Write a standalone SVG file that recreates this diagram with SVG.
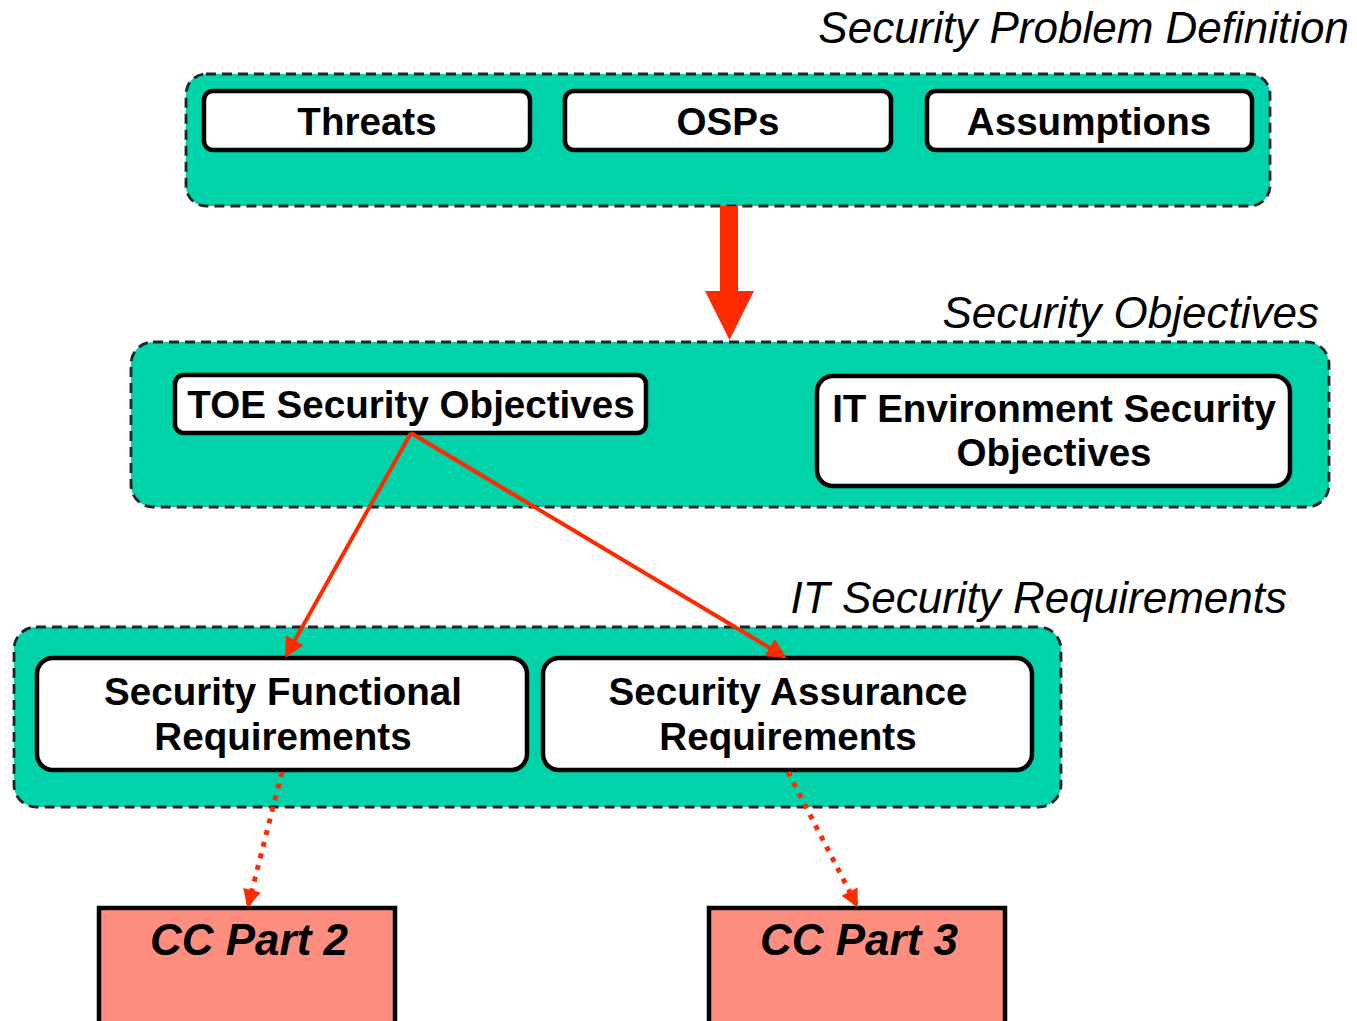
<svg xmlns="http://www.w3.org/2000/svg" width="1357" height="1021" viewBox="0 0 1357 1021">
  <defs>
    <style>
      .group { fill: #00d2aa; stroke: #222; stroke-width: 2.8; stroke-dasharray: 10 6; }
      .box { fill: #fff; stroke: #000; stroke-width: 4.5; }
      .cc { fill: #fe8f80; stroke: #000; stroke-width: 4.5; }
      .lbl { font-family: "Liberation Sans", Arial, sans-serif; font-weight: bold; font-size: 38.6px; fill: #000; text-anchor: middle; }
      .cclbl { font-family: "Liberation Sans", Arial, sans-serif; font-weight: bold; font-style: italic; font-size: 44px; fill: #000; text-anchor: middle; }
      .title { font-family: "Liberation Sans", Arial, sans-serif; font-style: italic; font-size: 44px; fill: #000; text-anchor: end; }
      .link { fill: none; stroke: #ff2a00; stroke-width: 4; }
      .dot { fill: none; stroke: #ff2a00; stroke-width: 5; stroke-dasharray: 5 7; }
    </style>
    <marker id="head" viewBox="0 0 10 10" refX="9" refY="5" markerWidth="6" markerHeight="5" orient="auto" markerUnits="strokeWidth">
      <path d="M0,0 L10,5 L0,10 z" fill="#ff2a00"/>
    </marker>
    <marker id="headDot" viewBox="0 0 10 10" refX="9" refY="5" markerWidth="4.5" markerHeight="3.6" orient="auto" markerUnits="strokeWidth">
      <path d="M0,0 L10,5 L0,10 z" fill="#ff2a00"/>
    </marker>
  </defs>

  <!-- Security Problem Definition -->
  <g id="spd">
    <rect class="group" x="186" y="74" width="1084" height="132" rx="20"/>
    <text class="title" x="1349" y="43">Security Problem Definition</text>
  </g>
  <g id="threats">
    <rect class="box" x="204" y="91" width="326" height="59" rx="9"/>
    <text class="lbl" x="367" y="135">Threats</text>
  </g>
  <g id="osps">
    <rect class="box" x="565" y="91" width="326" height="59" rx="9"/>
    <text class="lbl" x="728" y="135">OSPs</text>
  </g>
  <g id="assumptions">
    <rect class="box" x="927" y="91" width="325" height="59" rx="9"/>
    <text class="lbl" x="1089" y="135">Assumptions</text>
  </g>

  <!-- Security Objectives -->
  <g id="so">
    <rect class="group" x="131" y="342" width="1198" height="165" rx="22"/>
    <text class="title" x="1319" y="328">Security Objectives</text>
  </g>
  <g id="toe">
    <rect class="box" x="175" y="375" width="471" height="58" rx="9"/>
    <text class="lbl" x="411" y="418">TOE Security Objectives</text>
  </g>
  <g id="itenv">
    <rect class="box" x="817" y="376" width="473" height="110" rx="16"/>
    <text class="lbl" x="1054" y="422">IT Environment Security</text>
    <text class="lbl" x="1054" y="466">Objectives</text>
  </g>

  <!-- IT Security Requirements -->
  <g id="itsr">
    <rect class="group" x="14" y="627" width="1047" height="180" rx="22"/>
    <text class="title" x="1287" y="613">IT Security Requirements</text>
  </g>
  <g id="sfr">
    <rect class="box" x="37" y="658" width="490" height="112" rx="16"/>
    <text class="lbl" x="283" y="705">Security Functional</text>
    <text class="lbl" x="283" y="750">Requirements</text>
  </g>
  <g id="sar">
    <rect class="box" x="543" y="658" width="489" height="112" rx="16"/>
    <text class="lbl" x="788" y="705">Security Assurance</text>
    <text class="lbl" x="788" y="750">Requirements</text>
  </g>

  <!-- Common Criteria parts -->
  <g id="cc2">
    <rect class="cc" x="99" y="908" width="296" height="130"/>
    <text class="cclbl" x="249" y="955">CC Part 2</text>
  </g>
  <g id="cc3">
    <rect class="cc" x="709" y="908" width="296" height="130"/>
    <text class="cclbl" x="859" y="955">CC Part 3</text>
  </g>

  <!-- Connectors -->
  <g id="connectors">
    <path d="M720,206 H738 V291 H754 L729.5,340 L705,291 H720 Z" fill="#ff2a00"/>
    <line class="link" x1="411" y1="433" x2="286" y2="656" marker-end="url(#head)"/>
    <line class="link" x1="411" y1="433" x2="785" y2="657" marker-end="url(#head)"/>
    <line class="dot" x1="282" y1="772" x2="248" y2="906" marker-end="url(#headDot)"/>
    <line class="dot" x1="788" y1="772" x2="857" y2="906" marker-end="url(#headDot)"/>
  </g>
</svg>
